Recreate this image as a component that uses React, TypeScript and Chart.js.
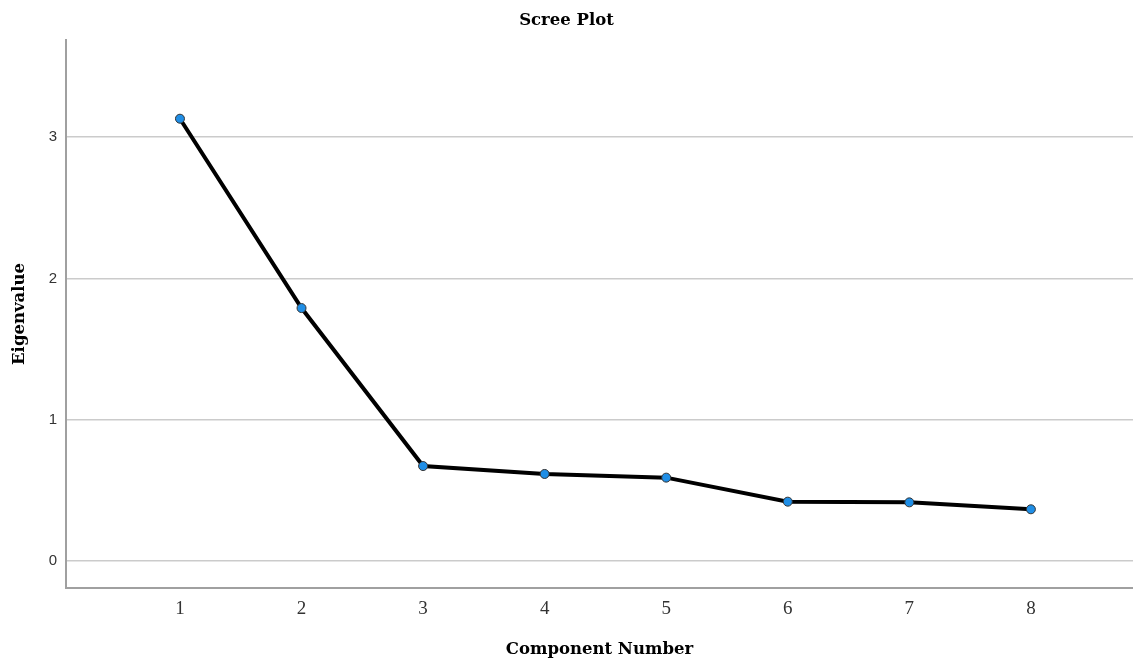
import React, { useEffect, useRef } from "react";
import { Chart, registerables } from "chart.js";

Chart.register(...registerables);

const components = [1, 2, 3, 4, 5, 6, 7, 8];
const eigenvalues = [3.13, 1.79, 0.672, 0.616, 0.59, 0.42, 0.415, 0.366];
const yTickValues = [0, 1, 2, 3];
const chartTitle = "Scree Plot";
const xTitle = "Component Number";
const yTitle = "Eigenvalue";

const serif = "'DejaVu Serif', 'Liberation Serif', serif";

export default function App() {
  const ref = useRef<HTMLCanvasElement | null>(null);

  useEffect(() => {
    if (!ref.current) return;
    const chart = new Chart(ref.current, {
      type: "line",
      data: {
        datasets: [
          {
            data: components.map((c, i) => ({ x: c, y: eigenvalues[i] })),
            borderColor: "#000000",
            borderWidth: 4,
            pointRadius: 4.5,
            pointHoverRadius: 4.5,
            pointBackgroundColor: "#1f8ee6",
            pointBorderColor: "#333333",
            pointBorderWidth: 1,
            tension: 0,
            fill: false,
          },
        ],
      },
      options: {
        responsive: false,
        animation: false,
        events: [],
        layout: { padding: 0, autoPadding: false },
        plugins: {
          legend: { display: false },
          tooltip: { enabled: false },
          title: {
            display: true,
            text: chartTitle,
            color: "#000",
            font: { family: serif, size: 16.5, weight: "bold", lineHeight: 1.2 },
            padding: { top: 11.1, bottom: 9.1 },
          },
        },
        scales: {
          x: {
            type: "linear",
            min: 0.0625,
            max: 8.84,
            afterFit: (s: any) => {
              s.height = 72;
            },
            afterBuildTicks: (s: any) => {
              s.ticks = components.map((v) => ({ value: v }));
            },
            grid: { color: "rgba(0,0,0,0)", drawTicks: false },
            border: { display: true, color: "#a0a0a0", width: 2 },
            ticks: {
              color: "#333",
              padding: 10,
              font: { family: "'Liberation Serif', serif", size: 19, lineHeight: 1.2 },
              callback: (v: any) => String(v),
            },
            title: {
              display: true,
              text: xTitle,
              color: "#000",
              font: { family: serif, size: 16.5, weight: "bold", lineHeight: 1.2 },
              padding: { top: 1.6, bottom: 0 },
            },
          },
          y: {
            type: "linear",
            min: -0.191,
            max: 3.687,
            afterFit: (s: any) => {
              s.width = 66;
            },
            afterBuildTicks: (s: any) => {
              s.ticks = yTickValues.map((v) => ({ value: v }));
            },
            grid: { color: "#cbcbcb", lineWidth: 1.5, drawTicks: false },
            border: { display: true, color: "#a0a0a0", width: 2 },
            ticks: {
              color: "#333",
              padding: 9,
              font: { family: "'Liberation Sans', sans-serif", size: 15 },
              callback: (v: any) => String(v),
            },
            title: {
              display: true,
              text: yTitle,
              color: "#000",
              font: { family: serif, size: 16.5, weight: "bold", lineHeight: 1.2 },
              padding: { top: 9.5, bottom: 0 },
            },
          },
        },
      },
    });
    return () => chart.destroy();
  }, []);

  return (
    <div style={{ position: "fixed", left: 0, top: 0, width: 1133, height: 660, background: "#fff" }}>
      <canvas ref={ref} width={1133} height={660} />
    </div>
  );
}
